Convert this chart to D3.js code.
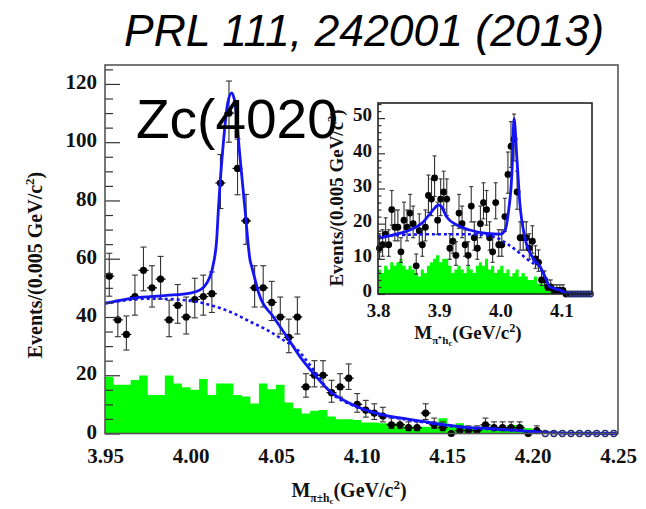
<!DOCTYPE html>
<html><head><meta charset="utf-8">
<script src="https://cdn.jsdelivr.net/npm/d3@7"></script>
<style>body{margin:0;background:#fff}svg{display:block}</style>
</head><body>
<svg id="c" width="646" height="509"></svg>
<script>
// ---------- DATA ----------
const binW = 0.005;
// main plot (3.95 - 4.25 GeV), data counts per bin (filled markers), starting at 3.95
const mainStart = 3.95;
const mainCounts = [54,39,34,47,56,50,53,39,44,40,46,47,48,86,110,91,73,50,50,45,40,33,40,16,20,20,14,16,19,10,8,7,6,3,3,2,2,7,3,2,0,1,1,1,3,2,2,2,2,0,1];
// empty bins drawn with open markers
const mainEmptyBins = [4.2075,4.2125,4.2175,4.2225,4.2275,4.2325,4.2375,4.2425,4.2475];
// green (sideband) histogram
const mainSideband = [19.5,16.7,16.7,18.4,19.9,13.2,13.2,19.9,17.2,15.9,15,18.7,13.2,17.2,17.2,13.2,12.7,10.3,17.2,15.2,16.7,10.6,8.7,6.9,7.8,8.1,5.8,4.9,4.9,4.6,3.8,3.8,3.5,3.5,3.5,2.3,2.3,2.3,2.3,5.2,2.3,3.5,1.8,1.8,2.9,1.8,1.8,2.9,2.9,1.8,1.2,0,0,0,0,0,0,0,0,0];
// total fit (solid)
const mainFitX = [3.95,3.9666,3.986,3.9997,4.0056,4.0095,4.0133,4.0153,4.0163,4.0192,4.0218,4.0241,4.026,4.0289,4.0319,4.0348,4.0358,4.0406,4.0484,4.0563,4.064,4.0718,4.0816,4.0952,4.1127,4.1264,4.143,4.1537,4.1615,4.1732,4.1829,4.1946,4.2054,4.222,4.25];
const mainFitY = [44.7,46.5,47.4,48.2,49.3,51.6,58,66.5,76.8,99.7,113.5,116.9,113.5,95.1,76.8,59.6,57.3,47,40.1,33.3,26.4,20.7,14.5,9.8,6.4,5,3.5,2.6,2.1,1.8,1.4,0.9,0.4,0.1,0];
// background (dashed)
const mainBkgX = [3.95,3.9763,3.9919,4.0036,4.0133,4.025,4.0348,4.0446,4.0543,4.0621,4.0718,4.0816,4.095,4.113,4.126,4.143,4.16,4.18,4.2,4.22,4.25];
const mainBkgY = [44.7,46.3,46,45.2,43.8,41.3,38.4,35.6,32.1,29,22,14.3,9.6,6.2,4.8,3.3,2,1.3,0.6,0.1,0];
const mainXTicks = ["3.95","4.00","4.05","4.10","4.15","4.20","4.25"];
const mainYTicks = [0,20,40,60,80,100,120];

// inset (3.80 - 4.15 GeV)
const insetStart = 3.80;
const insetCounts = [13,14,17,14,24,19,19,12,21,19,23,20,8,18,14,19,28,27,33,21,27,29,27,13,15,11,23,20,14,11,25,16,13,20,26,24,16,12,26,14,14,22,34,42,44,29,16,16,16,13,15,10,9,4,4,2,2,1,1,1,1,0];
const insetEmptyBins = [4.1125,4.1175,4.1225,4.1275,4.1325,4.1375,4.1425,4.1475];
const insetSideband = [7,6,8,7,9,8,9,10,8,7,8,7,6,5,7,6,8,9,10,11,9,10,10,8,6,7,8,7,6,8,7,6,8,9,8,10,7,8,6,7,8,6,7,5,6,7,5,6,5,4,4,5,3,3,2.5,2,1.5,1,1,0.5,0.3,0,0,0,0,0,0,0,0,0];
const insetFitX = [3.80,3.825,3.852,3.874,3.89,3.899,3.904,3.912,3.929,3.95,3.978,4.0,4.008,4.013,4.019,4.0225,4.027,4.032,4.04,4.054,4.065,4.073,4.081,4.098,4.111,4.15];
const insetFitY = [15.8,16.8,18.2,20.5,23.9,25.3,24.8,22,19.6,18.2,17.2,17,18.2,22.9,34.3,49.9,39,25.8,16.3,10.1,7.8,4.9,2.1,1.1,0.2,0];
const insetBkgX = [3.80,3.841,3.896,3.95,3.989,4.01,4.032,4.049,4.065,4.073,4.081,4.098,4.111];
const insetBkgY = [16.3,16.8,17,17,16.3,14.4,11.6,9.2,7.6,4.8,2,1,0.2];
const insetXTicks = ["3.8","3.9","4.0","4.1"];
const insetYTicks = [0,10,20,30,40,50];

// ---------- DRAW ----------
const svg = d3.select("#c");
const SERIF = "'Liberation Serif','Times New Roman',serif";
const SANS = "'Liberation Sans',Arial,Helvetica,sans-serif";
const BLUE = "#1414f5", GREEN = "#00ff00";

// Title
svg.append("text").attr("x",124).attr("y",46)
  .attr("font-family",SANS).attr("font-style","italic").attr("font-size",44.5)
  .attr("fill","#000").text("PRL 111, 242001 (2013)");

function panel(o){
  const g = svg.append("g");
  const x = d3.scaleLinear().domain(o.xd).range([o.x0,o.x1]);
  const y = d3.scaleLinear().domain(o.yd).range([o.y0,o.y1]);

  // sideband histogram (steps)
  const edges = o.side.map((v,i)=>({e:o.start+i*binW, v}));
  edges.push({e:o.start+o.side.length*binW, v:0});
  g.append("path").datum(edges)
    .attr("d", d3.area().x(d=>x(d.e)).y0(y(0)).y1(d=>y(d.v)).curve(d3.curveStepAfter))
    .attr("fill",GREEN).attr("stroke","none");

  // data points
  const pts = o.counts.map((c,i)=>({x:o.start+binW*(i+0.5), c}));
  const pg = g.append("g");
  pts.forEach(p=>{
    const px = x(p.x), py = y(p.c);
    if (p.c>0){
      const s = Math.sqrt(p.c+0.25);
      const up = y(p.c+s+0.5), lo = y(Math.max(0,p.c-s+0.5));
      pg.append("line").attr("x1",px).attr("x2",px).attr("y1",up).attr("y2",lo).attr("stroke","#333").attr("stroke-width",1.1);
      pg.append("line").attr("x1",px-o.cap).attr("x2",px+o.cap).attr("y1",up).attr("y2",up).attr("stroke","#333").attr("stroke-width",1.1);
      pg.append("line").attr("x1",px-o.cap).attr("x2",px+o.cap).attr("y1",lo).attr("y2",lo).attr("stroke","#333").attr("stroke-width",1.1);
    }
    pg.append("line").attr("x1",px-o.hw).attr("x2",px+o.hw).attr("y1",py).attr("y2",py).attr("stroke","#000").attr("stroke-width",1.2);
    pg.append("circle").attr("cx",px).attr("cy",py).attr("r",o.r).attr("fill","#000");
  });

  // curves
  const line = d3.line().x(d=>x(d[0])).y(d=>y(d[1])).curve(d3.curveMonotoneX);
  g.append("path").datum(o.bkgX.map((v,i)=>[v,o.bkgY[i]])).attr("d",line)
    .attr("fill","none").attr("stroke",BLUE).attr("stroke-width",2.6).attr("stroke-dasharray","3,3");
  g.append("path").datum(o.fitX.map((v,i)=>[v,o.fitY[i]])).attr("d",line)
    .attr("fill","none").attr("stroke",BLUE).attr("stroke-width",2.8);

  // empty bins
  o.empty.forEach(v=>{
    g.append("circle").attr("cx",x(v)).attr("cy",y(0)).attr("r",o.r-0.6)
      .attr("fill","none").attr("stroke","#1b2a6b").attr("stroke-width",1.3);
  });

  // axes
  const ya = d3.axisLeft(y).tickValues(o.yticks).tickSize(-o.majT).tickPadding(o.ypad)
    .tickFormat(d3.format("d"));
  const yg = g.append("g").attr("transform",`translate(${o.x0},0)`).call(ya);
  const yminor = d3.range(o.yd[0], o.yd[1], o.minorStep).filter(v=>!o.yticks.includes(v));
  g.append("g").attr("transform",`translate(${o.x0},0)`)
    .call(d3.axisLeft(y).tickValues(yminor).tickSize(-o.minT).tickFormat(""))
    .call(s=>s.select(".domain").remove());
  const xa = d3.axisBottom(x).tickValues(o.xticks.map(Number)).tickSize(0).tickPadding(o.xpad)
    .tickFormat((d,i)=>o.xticks[i]);
  const xg = g.append("g").attr("transform",`translate(0,${o.y0})`).call(xa);
  [yg,xg].forEach(a=>{
    a.select(".domain").remove();
    a.selectAll("text").attr("font-family",SERIF).attr("font-weight","bold").attr("font-size",o.fs).attr("fill","#111");
  });
  yg.selectAll("text").attr("dy",o.ydy);
  g.selectAll(".tick line").attr("stroke","#333").attr("stroke-width",1.2);

  // frame
  g.append("rect").attr("x",o.x0).attr("y",o.y1).attr("width",o.x1-o.x0).attr("height",o.y0-o.y1)
    .attr("fill","none").attr("stroke",o.frameCol).attr("stroke-width",1.6);

  // y title
  const yt = g.append("text").attr("transform",`translate(${o.ytx},${o.yty}) rotate(-90)`)
    .attr("text-anchor","middle").attr("font-family",SERIF).attr("font-weight","bold")
    .attr("font-size",o.tfs).attr("fill","#111");
  yt.append("tspan").text("Events/(0.005 GeV/c");
  yt.append("tspan").attr("dy",-o.tfs*0.38).attr("font-size",o.tfs*0.65).text("2");
  yt.append("tspan").attr("dy",o.tfs*0.38).text(")");

  // x title
  const xt = g.append("text").attr("x",o.xtx).attr("y",o.xty)
    .attr("text-anchor","middle").attr("font-family",SERIF).attr("font-weight","bold")
    .attr("font-size",o.tfs).attr("fill","#111");
  xt.append("tspan").text("M");
  xt.append("tspan").attr("dy",o.tfs*0.25).attr("font-size",o.tfs*0.58).text(o.sub);
  xt.append("tspan").attr("dy",o.tfs*0.1).attr("font-size",o.tfs*0.45).text("c");
  xt.append("tspan").attr("dy",-o.tfs*0.35).text("(GeV/c");
  xt.append("tspan").attr("dy",-o.tfs*0.38).attr("font-size",o.tfs*0.65).text("2");
  xt.append("tspan").attr("dy",o.tfs*0.38).text(")");
}

panel({xd:[3.95,4.25], yd:[0,126.5], x0:105, x1:618, y0:433.5, y1:65,
  start:mainStart, counts:mainCounts, side:mainSideband, empty:mainEmptyBins,
  fitX:mainFitX, fitY:mainFitY, bkgX:mainBkgX, bkgY:mainBkgY,
  xticks:mainXTicks, yticks:mainYTicks, majT:15, minT:8, minorStep:5,
  ypad:8, xpad:14.5, fs:21, tfs:20, r:3.6, hw:5, cap:3, ydy:"0.22em",
  ytx:42, yty:265, xtx:349, xty:497, sub:"π±h", frameCol:"#555"});

// Zc label
svg.append("text").attr("x",136).attr("y",138).attr("font-family",SANS)
  .attr("font-size",55).attr("fill","#000").text("Zc(4020");

panel({xd:[3.80,4.15], yd:[0,54.3], x0:378, x1:592, y0:294, y1:103,
  start:insetStart, counts:insetCounts, side:insetSideband, empty:insetEmptyBins,
  fitX:insetFitX, fitY:insetFitY, bkgX:insetBkgX, bkgY:insetBkgY,
  xticks:insetXTicks, yticks:insetYTicks, majT:7, minT:3.5, minorStep:2,
  ypad:6, xpad:10, fs:19, tfs:19, r:3.4, hw:0, cap:2, ydy:"0.15em",
  ytx:343, yty:198, xtx:468, xty:339, sub:"π⁺h", frameCol:"#222"});
</script>
</body></html>
